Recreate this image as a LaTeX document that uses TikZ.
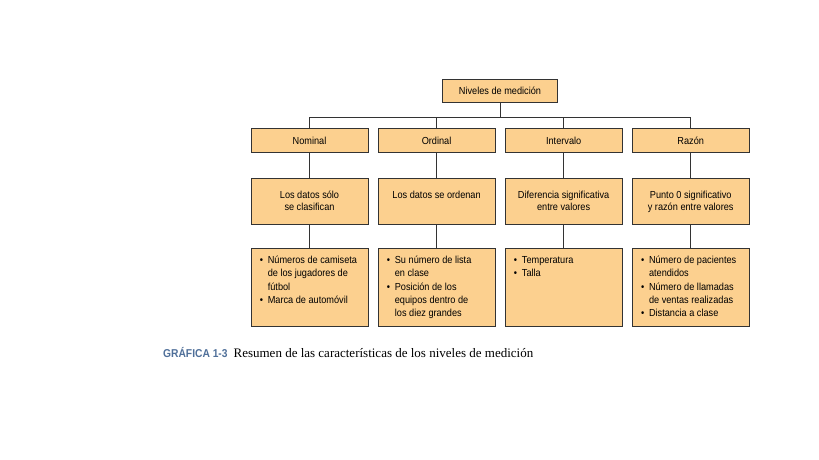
\documentclass[tikz,border=0pt]{standalone}
\usepackage{fontspec}
\setmainfont{Liberation Serif}
\setsansfont{Liberation Sans}[FakeStretch=0.9]
\usetikzlibrary{positioning}
\definecolor{boxfill}{HTML}{FCD08F}
\definecolor{capblue}{HTML}{4F6F99}
\newcommand\bul{\makebox[8pt][l]{\textbullet}}
\newcommand\ind{\hspace*{8pt}}

\begin{document}
\begin{tikzpicture}[x=1pt,y=-1pt,
  font=\sffamily\fontsize{10.2}{13.3}\selectfont,
  conn/.style={draw=black!80,line width=0.8pt},
  box/.style={draw=black!80,line width=0.8pt,fill=boxfill,inner sep=0pt,
              minimum width=117pt},
  topbox/.style={box,minimum width=114.6pt,minimum height=23.3pt},
  lvl/.style={box,minimum height=23.3pt},
  descbox/.style={box,minimum height=45.7pt},
  exbox/.style={box,minimum height=78.4pt},
  desctxt/.style={inner sep=0pt,align=center,font=\sffamily\fontsize{10.2}{12.3}\selectfont},
  extxt/.style={inner sep=0pt,align=left}]
  \useasboundingbox (0,0) rectangle (819,460);
  % --- root of the tree ---
  \node[topbox] (root) at (500,90.7) {Niveles de medición};
  % --- one column per level: name, description, examples ---
  \foreach \i/\lab in {1/Nominal,2/Ordinal,3/Intervalo,4/Razón}{
    \node[lvl] (lv\i) at ({309.5+127.07*(\i-1)},140.5) {\lab};
    \node[descbox] (ds\i) at ({309.5+127.07*(\i-1)},201.1) {};
    \node[exbox] (ex\i) at ({309.5+127.07*(\i-1)},287.5) {};
    \draw[conn] (root.south) -- ++(0,14.7) -| (lv\i.north);
    \draw[conn] (lv\i) -- (ds\i);
    \draw[conn] (ds\i) -- (ex\i);
  }
  % --- descriptions ---
  \node[desctxt,below=13pt of ds1.north] (dt1) {Los datos sólo\\se clasifican};
  \node[desctxt,below=13pt of ds2.north] (dt2) {Los datos se ordenan};
  \node[desctxt,below=13pt of ds3.north] (dt3) {Diferencia significativa\\entre valores};
  \node[desctxt,below=13pt of ds4.north] (dt4) {Punto 0 significativo\\y razón entre valores};
  % --- examples ---
  \node[extxt,below right=8pt and 9pt of ex1.north west] (et1)
    {\bul Números de camiseta\\\ind de los jugadores de\\\ind fútbol\\\bul Marca de automóvil};
  \node[extxt,below right=8pt and 9pt of ex2.north west] (et2)
    {\bul Su número de lista\\\ind en clase\\\bul Posición de los\\\ind equipos dentro de\\\ind los diez grandes};
  \node[extxt,below right=8pt and 9pt of ex3.north west] (et3)
    {\bul Temperatura\\\bul Talla};
  \node[extxt,below right=8pt and 9pt of ex4.north west] (et4)
    {\bul Número de pacientes\\\ind atendidos\\\bul Número de llamadas\\\ind de ventas realizadas\\\bul Distancia a clase};
  % --- caption ---
  \node[anchor=west,inner sep=0pt] (cap) at (163,352.5)
    {{\color{capblue}\sffamily\bfseries\fontsize{11.4}{13}\selectfont GRÁFICA 1-3}\hspace{6pt}%
     {\rmfamily\fontsize{13}{15}\selectfont Resumen de las características de los niveles de medición}};
\end{tikzpicture}
\end{document}
